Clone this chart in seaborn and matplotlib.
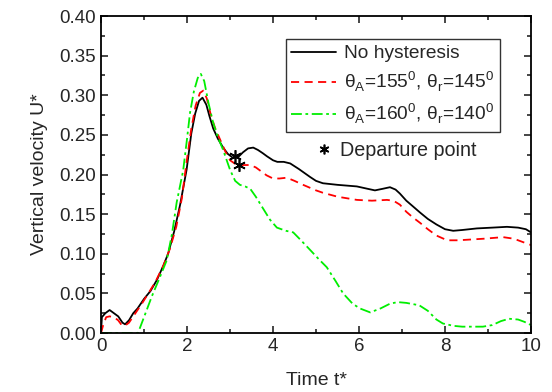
import numpy as np
import pandas as pd
import seaborn as sns
import matplotlib
matplotlib.use("Agg")
import matplotlib.pyplot as plt
from matplotlib.ticker import MultipleLocator
from matplotlib.lines import Line2D

# values
t_black = [0.0, 0.02, 0.1, 0.2, 0.3, 0.4, 0.5, 0.56, 0.65, 0.75, 0.85, 1.0, 1.15, 1.3, 1.45,
           1.56, 1.7, 1.84, 1.99, 2.1, 2.19, 2.28, 2.36, 2.45, 2.52, 2.61, 2.72, 2.84, 2.95,
           3.07, 3.19, 3.3, 3.42, 3.54, 3.65, 3.76, 3.86, 4.0, 4.1, 4.25, 4.4, 4.6, 4.86, 5.0,
           5.16, 5.5, 5.95, 6.2, 6.37, 6.55, 6.72, 6.85, 6.95, 7.1, 7.25, 7.42, 7.6, 7.8, 8.0,
           8.19, 8.4, 8.74, 9.1, 9.44, 9.7, 9.88, 10.0]
u_black = [0.0, 0.02, 0.025, 0.029, 0.025, 0.021, 0.013, 0.011, 0.016, 0.025, 0.031, 0.043,
           0.053, 0.067, 0.085, 0.100, 0.128, 0.162, 0.206, 0.252, 0.277, 0.293, 0.297, 0.288,
           0.274, 0.258, 0.245, 0.234, 0.226, 0.221, 0.222, 0.228, 0.233, 0.234, 0.231, 0.227,
           0.223, 0.218, 0.216, 0.216, 0.214, 0.207, 0.197, 0.192, 0.189, 0.187, 0.185, 0.182,
           0.180, 0.182, 0.184, 0.181, 0.176, 0.167, 0.160, 0.152, 0.144, 0.137, 0.131, 0.129,
           0.130, 0.132, 0.133, 0.134, 0.133, 0.131, 0.127]

t_red = [0.0, 0.05, 0.12, 0.2, 0.3, 0.4, 0.48, 0.55, 0.65, 0.8, 0.95, 1.1, 1.26, 1.45, 1.6,
         1.75, 1.88, 1.99, 2.1, 2.2, 2.3, 2.38, 2.46, 2.55, 2.65, 2.77, 2.9, 3.0, 3.16, 3.3,
         3.47, 3.6, 3.7, 3.85, 4.0, 4.15, 4.32, 4.5, 4.7, 5.0, 5.16, 5.5, 5.95, 6.3, 6.65, 6.8,
         6.95, 7.1, 7.25, 7.42, 7.6, 7.8, 8.05, 8.3, 8.6, 8.9, 9.35, 9.6, 9.8, 10.0]
u_red = [0.0, 0.01, 0.02, 0.021, 0.02, 0.016, 0.010, 0.009, 0.013, 0.025, 0.037, 0.05, 0.064,
         0.085, 0.106, 0.134, 0.17, 0.216, 0.258, 0.287, 0.303, 0.306, 0.296, 0.276, 0.259,
         0.244, 0.228, 0.218, 0.212, 0.212, 0.212, 0.209, 0.205, 0.199, 0.195, 0.195, 0.196,
         0.192, 0.187, 0.180, 0.177, 0.172, 0.168, 0.167, 0.168, 0.167, 0.162, 0.153, 0.146,
         0.139, 0.131, 0.123, 0.117, 0.117, 0.118, 0.119, 0.121, 0.119, 0.115, 0.111]

t_green = [0.0, 0.86, 1.0, 1.18, 1.35, 1.53, 1.65, 1.76, 1.91, 2.0, 2.07, 2.16, 2.25, 2.32, 2.4,
           2.5, 2.61, 2.72, 2.84, 3.0, 3.12, 3.23, 3.35, 3.47, 3.6, 3.77, 3.93, 4.09, 4.3, 4.47,
           4.65, 4.86, 5.05, 5.25, 5.45, 5.63, 5.85, 6.02, 6.26, 6.5, 6.72, 6.9, 7.1, 7.4, 7.6,
           7.8, 7.95, 8.2, 8.4, 8.88, 9.1, 9.3, 9.49, 9.7, 9.85, 10.0]
u_green = [0.0, 0.0, 0.02, 0.046, 0.068, 0.092, 0.125, 0.165, 0.205, 0.245, 0.278, 0.305, 0.322,
           0.327, 0.318, 0.29, 0.265, 0.247, 0.231, 0.206, 0.192, 0.187, 0.185, 0.182, 0.172,
           0.157, 0.143, 0.133, 0.129, 0.127, 0.117, 0.105, 0.094, 0.083, 0.066, 0.05, 0.037,
           0.031, 0.026, 0.031, 0.037, 0.039, 0.038, 0.035, 0.028, 0.017, 0.012, 0.009, 0.008,
           0.008, 0.010, 0.015, 0.018, 0.017, 0.014, 0.01]

dep_t = [3.12, 3.22]
dep_u = [0.224, 0.212]

labels = ["No hysteresis",
          "θ$_\\mathregular{A}$=155$^\\mathregular{0}$, θ$_\\mathregular{r}$=145$^\\mathregular{0}$",
          "θ$_\\mathregular{A}$=160$^\\mathregular{0}$, θ$_\\mathregular{r}$=140$^\\mathregular{0}$"]

sns.set_style("ticks")
plt.rcParams['font.family'] = ['Liberation Sans', 'DejaVu Sans']
plt.rcParams['mathtext.fontset'] = 'custom'
plt.rcParams['mathtext.rm'] = 'Liberation Sans'

fig = plt.figure(figsize=(5.52, 3.92), dpi=100)
ax = fig.add_axes([0.183, 0.1505, 0.779, 0.8085])

sns.lineplot(x=t_black, y=u_black, color="black", lw=1.3, label=labels[0], ax=ax, sort=False)
sns.lineplot(x=t_red, y=u_red, color="red", lw=1.3, label=labels[1], ax=ax, sort=False)
sns.lineplot(x=t_green, y=u_green, color="#00ee00", lw=1.3, label=labels[2], ax=ax, sort=False)
ax.lines[1].set_dashes([4.5, 3])
ax.lines[2].set_dashes([6, 2, 1.5, 2])

# departure points
ax.plot(dep_t, dep_u, ls="none", marker=(6, 2, 0), ms=9, mew=1.2, color="black")

ax.set_xlim(0, 10)
ax.set_ylim(0, 0.40)
ax.xaxis.set_major_locator(MultipleLocator(2))
ax.xaxis.set_minor_locator(MultipleLocator(1))
ax.yaxis.set_major_locator(MultipleLocator(0.05))
ax.yaxis.set_minor_locator(MultipleLocator(0.025))
ax.yaxis.set_major_formatter(matplotlib.ticker.FormatStrFormatter("%.2f"))
ax.tick_params(which="both", direction="in", top=True, right=True, width=1.2, labelsize=13.5)
ax.tick_params(which="major", length=5)
ax.tick_params(which="minor", length=3)
for s in ax.spines.values():
    s.set_linewidth(1.3)
    s.set_color("black")

ax.set_xlabel("Time t*", fontsize=14, labelpad=12)
ax.set_ylabel("Vertical velocity U*", fontsize=14, labelpad=8)

leg = ax.legend(loc="upper right", bbox_to_anchor=(0.928, 0.927), fontsize=13.8, frameon=True,
                fancybox=False, edgecolor="black", handlelength=2.3, borderpad=0.3,
                labelspacing=0.4, handletextpad=0.45, borderaxespad=0)
leg.get_frame().set_linewidth(1.0)
ax.add_artist(leg)
star = Line2D([], [], ls="none", marker=(6, 2, 0), ms=7, mew=1.2, color="black")
ax.legend(handles=[star], labels=["Departure point"], loc="upper left",
          bbox_to_anchor=(0.495, 0.605), frameon=False, fontsize=14.2, handlelength=1.0,
          handletextpad=0.3, borderaxespad=0, borderpad=0)

fig.savefig("out.png", dpi=100)
